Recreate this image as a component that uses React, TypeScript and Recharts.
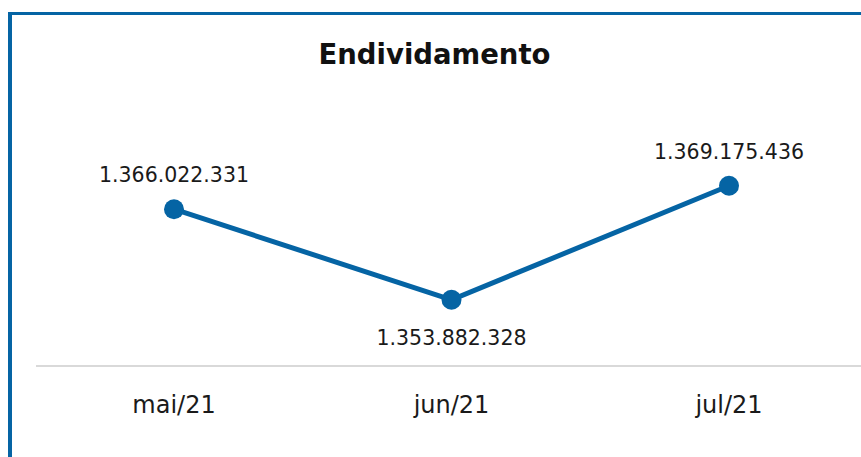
import { LineChart, Line, XAxis, YAxis, LabelList } from 'recharts'

const months = ['mai/21', 'jun/21', 'jul/21']
const debt = [1366022331, 1353882328, 1369175436]

const data = months.map((m, i) => ({ month: m, value: debt[i] }))

const BLUE = '#0564a4'
const FONT = '"DejaVu Sans", sans-serif'

const fmt = (v: number) => v.toLocaleString('pt-BR')

function ValueLabel(props: any) {
  const { x, y, value, index } = props
  const below = index === 1
  return (
    <text
      x={x}
      y={below ? y + 38 : y - 34}
      textAnchor="middle"
      dominantBaseline="central"
      fontSize={20.5}
      fontFamily={FONT}
      fill="#1a1a1a"
    >
      {fmt(value)}
    </text>
  )
}

export default function App() {
  return (
    <div
      style={{
        position: 'absolute',
        left: 8,
        top: 12,
        width: 853,
        height: 445,
        borderLeft: `4px solid ${BLUE}`,
        borderTop: `3px solid ${BLUE}`,
        overflow: 'hidden',
        background: '#fff',
      }}
    >
      <div
        style={{
          position: 'absolute',
          left: 0,
          top: 23,
          width: 845,
          textAlign: 'center',
          fontFamily: FONT,
          fontWeight: 'bold',
          fontSize: 27.5,
          color: '#111',
        }}
      >
        Endividamento
      </div>
      <LineChart width={880} height={442} data={data} margin={{ top: 90, right: 25, left: 24, bottom: 0 }}>
        <XAxis
          dataKey="month"
          height={91}
          padding={{ left: 138, right: 138 }}
          axisLine={{ stroke: '#d9d9d9', strokeWidth: 2 }}
          tickLine={false}
          tickMargin={24}
          tick={{ fontSize: 24, fill: '#1a1a1a', fontFamily: FONT }}
        />
        <YAxis hide domain={[1345000000, 1380000000]} />
        <Line
          dataKey="value"
          stroke={BLUE}
          strokeWidth={5}
          dot={{ r: 10, fill: BLUE, stroke: BLUE, strokeWidth: 0 }}
          isAnimationActive={false}
        >
          <LabelList dataKey="value" content={ValueLabel} />
        </Line>
      </LineChart>
    </div>
  )
}
